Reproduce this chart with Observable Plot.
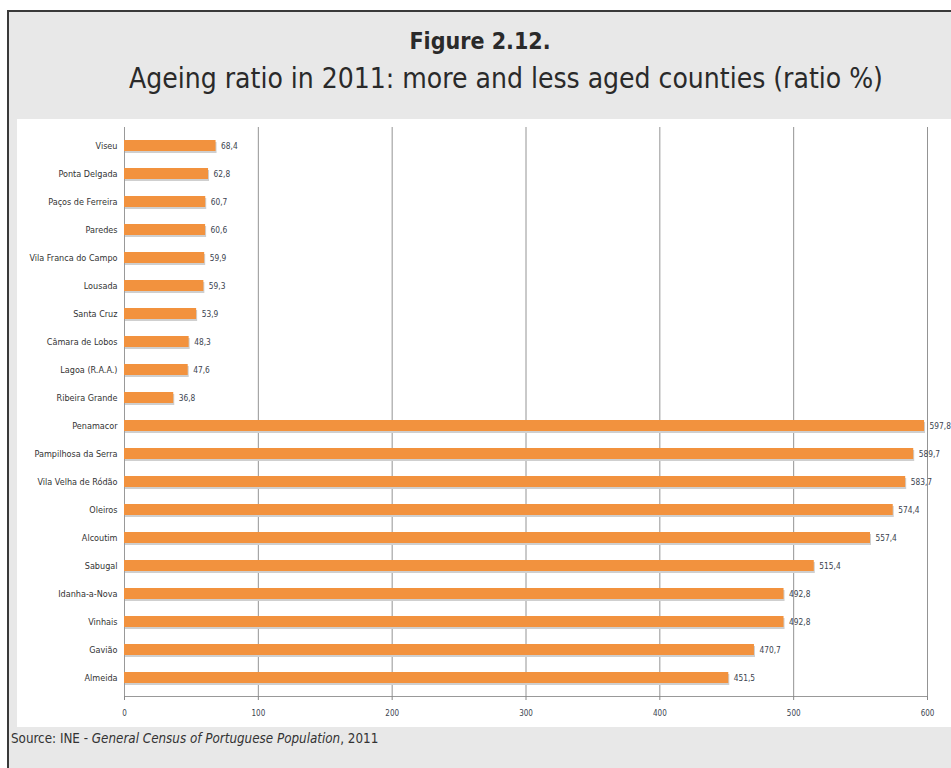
<!DOCTYPE html>
<html>
<head>
<meta charset="utf-8">
<script src="https://cdn.jsdelivr.net/npm/d3@7"></script>
<script src="https://cdn.jsdelivr.net/npm/@observablehq/plot@0.6"></script>
<style>
  html, body { margin: 0; padding: 0; background: #ffffff; overflow: hidden; }
  #box {
    position: absolute; left: 7px; top: 10px; width: 980px; height: 800px;
    background: #e8e8e8; border: 2px solid #3a3a3a; box-sizing: border-box;
  }
  .cond { font-family: "Liberation Sans Narrow", "DejaVu Sans Condensed", "Roboto Condensed", sans-serif; font-stretch: condensed; }
  #title { position: absolute; left: 0; width: 942px; top: 16px; text-align: center; font-size: 23px; font-weight: bold; color: #2a2a2a; }
  #subtitle { position: absolute; left: 26px; width: 942px; top: 50px; text-align: center; font-size: 28px; color: #2a2a2a; }
  #panel { position: absolute; left: 8px; top: 107px; width: 960px; height: 608px; background: #ffffff; }
  #panel svg { overflow: visible; }
  #source { position: absolute; left: 2px; top: 719px; font-size: 13.3px; color: #333; }
</style>
</head>
<body>
<div id="box">
  <div id="title" class="cond">Figure 2.12.</div>
  <div id="subtitle" class="cond">Ageing ratio in 2011: more and less aged counties (ratio %)</div>
  <div id="panel"></div>
  <div id="source" class="cond">Source: INE - <i>General Census of Portuguese Population</i>, 2011</div>
</div>
<script>
const counties = [
  "Viseu", "Ponta Delgada", "Paços de Ferreira", "Paredes", "Vila Franca do Campo",
  "Lousada", "Santa Cruz", "Câmara de Lobos", "Lagoa (R.A.A.)", "Ribeira Grande",
  "Penamacor", "Pampilhosa da Serra", "Vila Velha de Ródão", "Oleiros", "Alcoutim",
  "Sabugal", "Idanha-a-Nova", "Vinhais", "Gavião", "Almeida"
];
const ratios = [
  68.4, 62.8, 60.7, 60.6, 59.9,
  59.3, 53.9, 48.3, 47.6, 36.8,
  597.8, 589.7, 583.7, 574.4, 557.4,
  515.4, 492.8, 492.8, 470.7, 451.5
];
const xTicks = [0, 100, 200, 300, 400, 500, 600];

const data = counties.map((c, i) => ({county: c, ratio: ratios[i]}));
const fmt = v => v.toFixed(1).replace(".", ",");

const chart = Plot.plot({
  width: 934,
  height: 608,
  marginLeft: 107,
  marginRight: 24,
  marginTop: 8,
  marginBottom: 31,
  style: {fontFamily: "'DejaVu Sans Condensed', 'Liberation Sans Narrow', sans-serif", background: "transparent", overflow: "visible"},
  x: {domain: [0, 600], ticks: xTicks, tickSize: 4, tickPadding: 8, tickFormat: d => String(d), label: null},
  y: {domain: counties, paddingInner: 0.62, paddingOuter: 0.31, tickSize: 0, tickPadding: 7, label: null},
  marks: [
    Plot.ruleX(xTicks.slice(1), {stroke: "#949494", strokeWidth: 1}),
    Plot.ruleX([0], {stroke: "#999", strokeWidth: 1}),
    Plot.frame({anchor: "bottom", stroke: "#999"}),
    Plot.barX(data, {x: "ratio", y: "county", fill: "#cfcfcf", dy: 2, dx: 1}),
    Plot.barX(data, {x: "ratio", y: "county", fill: "#f2923e"}),
    Plot.text(data, {x: "ratio", y: "county", text: d => fmt(d.ratio), dx: 5, textAnchor: "start", fontSize: 8.3, fill: "#3c4450"}),
    Plot.axisX({ticks: xTicks, tickSize: 4, tickPadding: 10, fontSize: 8, stroke: "#888", fill: "#3c4450"}),
    Plot.axisY({tickSize: 0, tickPadding: 7, fontSize: 9, fill: "#333"})
  ]
});
document.getElementById("panel").appendChild(chart);
</script>
</body>
</html>
